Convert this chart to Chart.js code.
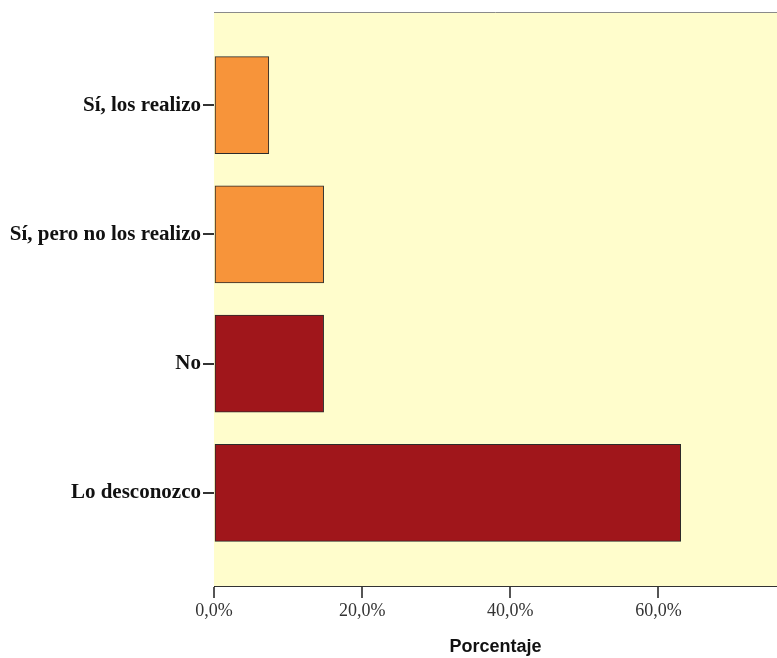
<!DOCTYPE html>
<html lang="es">
<head>
    <meta charset="UTF-8">
    <title>Porcentaje</title>
    <script src="https://cdn.jsdelivr.net/npm/chart.js"></script>
    <style>
        html, body {
            margin: 0;
            padding: 0;
            background: #ffffff;
        }
        #wrap {
            width: 777px;
            height: 658px;
        }
    </style>
</head>
<body>
    <div id="wrap">
        <canvas id="grafico" width="777" height="658"></canvas>
    </div>
    <script>
        // datos (n = 27)
        const categorias = ['Sí, los realizo', 'Sí, pero no los realizo', 'No', 'Lo desconozco'];
        const porcentajes = [7.4, 14.8, 14.8, 63.0];
        const coloresBarras = ['#F7943A', '#F7943A', '#A0161B', '#A0161B'];
        const ticksX = [0, 20, 40, 60];
        const tituloX = 'Porcentaje';

        // fondo amarillo del area del grafico + linea superior
        const fondoArea = {
            id: 'fondoArea',
            beforeDatasetsDraw(chart) {
                const { ctx, chartArea: a } = chart;
                ctx.save();
                ctx.fillStyle = '#FFFDCC';
                ctx.fillRect(a.left, a.top, a.right - a.left, a.bottom - a.top);
                ctx.strokeStyle = '#8a8a8a';
                ctx.lineWidth = 1;
                ctx.beginPath();
                ctx.moveTo(a.left, a.top + 0.5);
                ctx.lineTo(a.right, a.top + 0.5);
                ctx.stroke();
                ctx.restore();
            }
        };

        const ctx = document.getElementById('grafico').getContext('2d');
        const grafico = new Chart(ctx, {
            type: 'bar',
            data: {
                datasets: [{
                    data: porcentajes.map((v, i) => ({ x: v, y: i })),
                    backgroundColor: coloresBarras,
                    borderColor: '#2b2b2b',
                    borderWidth: 1,
                    borderSkipped: false,
                    barThickness: 97
                }]
            },
            options: {
                indexAxis: 'y',
                responsive: false,
                animation: false,
                layout: {
                    padding: { top: 12, right: 0, left: 0, bottom: 0 }
                },
                plugins: {
                    legend: { display: false },
                    tooltip: { enabled: false }
                },
                scales: {
                    x: {
                        type: 'linear',
                        min: 0,
                        max: 76,
                        afterBuildTicks: (s) => { s.ticks = ticksX.map(v => ({ value: v })); },
                        afterFit: (s) => { s.height = 72; s.paddingRight = 0; },
                        ticks: {
                            callback: (v) => v.toFixed(1).replace('.', ',') + '%',
                            color: '#333333',
                            font: { family: 'Liberation Serif', size: 18 },
                            padding: 2,
                            maxRotation: 0
                        },
                        grid: {
                            drawOnChartArea: false,
                            drawTicks: true,
                            tickLength: 12,
                            color: '#555555',
                            lineWidth: 2
                        },
                        border: { display: true, color: '#333333', width: 1 },
                        title: {
                            display: true,
                            text: tituloX,
                            color: '#111111',
                            font: { family: 'Liberation Sans', size: 18, weight: 'bold' },
                            padding: { top: 10, bottom: 0 }
                        }
                    },
                    y: {
                        type: 'linear',
                        reverse: true,
                        offset: false,
                        min: -0.72,
                        max: 3.72,
                        afterBuildTicks: (s) => { s.ticks = categorias.map((c, i) => ({ value: i })); },
                        afterFit: (s) => { s.width = 214; s.paddingTop = 0; s.paddingBottom = 0; },
                        ticks: {
                            callback: (v) => categorias[v],
                            color: '#111111',
                            font: { family: 'Liberation Serif', size: 21, weight: 'bold' },
                            padding: 2
                        },
                        grid: {
                            offset: false,
                            drawOnChartArea: false,
                            drawTicks: true,
                            tickLength: 11,
                            color: '#333333',
                            lineWidth: 2
                        },
                        border: { display: true, color: '#222222', width: 1 }
                    }
                }
            },
            plugins: [fondoArea]
        });
    </script>
</body>
</html>
